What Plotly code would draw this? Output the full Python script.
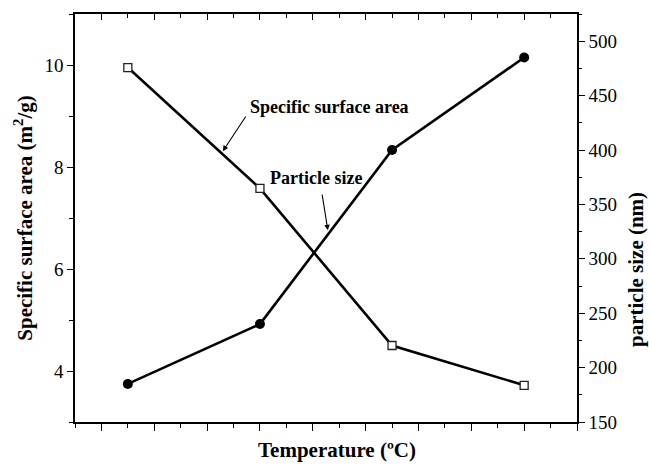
import plotly.graph_objects as go

# Data
temperature = [500, 600, 700, 800]
surface_area = [9.95, 7.58, 4.50, 3.72]        # m2/g (left axis)
particle_size = [185, 240, 400, 485]            # nm (right axis)

left_ticks = [4, 6, 8, 10]
right_ticks = [150, 200, 250, 300, 350, 400, 450, 500]

FONT = "Liberation Serif"

fig = go.Figure()

fig.add_trace(go.Scatter(
    x=temperature, y=surface_area, mode="lines+markers",
    line=dict(color="black", width=2.6),
    marker=dict(symbol="square", size=8, color="white",
                line=dict(color="#222", width=1.3)),
    showlegend=False, cliponaxis=False))

fig.add_trace(go.Scatter(
    x=temperature, y=particle_size, mode="lines+markers", yaxis="y2",
    line=dict(color="black", width=2.6),
    marker=dict(symbol="circle", size=10, color="black"),
    showlegend=False, cliponaxis=False))

# helper trace for top mirror axis (inside ticks)
fig.add_trace(go.Scatter(x=[None], y=[None], xaxis="x2", yaxis="y",
                         showlegend=False, hoverinfo="skip"))

axis_common = dict(showline=True, linecolor="black", linewidth=1.6,
                   showgrid=False, zeroline=False, tickcolor="black",
                   tickwidth=1.4, automargin=False)

fig.update_layout(
    width=649, height=464,
    margin=dict(l=75, r=72, t=14, b=42),
    paper_bgcolor="white", plot_bgcolor="white",
    font=dict(family=FONT, color="black"),
    xaxis=dict(**axis_common, range=[460, 840], tick0=480, dtick=40,
               ticks="outside", ticklen=7, showticklabels=False,
               minor=dict(dtick=20, tick0=460, ticks="outside", ticklen=4,
                          tickcolor="black", tickwidth=1.4)),
    xaxis2=dict(**axis_common, overlaying="x", side="top", anchor="y",
                range=[460, 840], tick0=480, dtick=40, ticks="inside",
                ticklen=6, showticklabels=False,
                minor=dict(dtick=20, tick0=460, ticks="inside", ticklen=4,
                           tickcolor="black", tickwidth=1.4)),
    yaxis=dict(**axis_common, range=[3, 11], tickvals=left_ticks,
               ticks="outside", ticklen=6,
               minor=dict(dtick=1, tick0=3, ticks="outside", ticklen=4,
                          tickcolor="black", tickwidth=1.4),
               tickfont=dict(size=19, family=FONT),
               title=dict(text="<b>Specific surface area (m<sup>2</sup>/g)</b>",
                          font=dict(size=21, family=FONT), standoff=6)),
    yaxis2=dict(**axis_common, overlaying="y", side="right", anchor="x",
                range=[150, 525], tickvals=right_ticks,
                ticks="outside", ticklen=6,
                minor=dict(dtick=25, tick0=150, ticks="outside", ticklen=3,
                           tickcolor="black", tickwidth=1.4),
                tickfont=dict(size=19, family=FONT)),
)

# x axis title (slightly right of centre in the reference)
fig.add_annotation(xref="paper", yref="paper", x=0.5, y=0,
                   xanchor="center", yanchor="middle", xshift=11, yshift=-28,
                   text="<b>Temperature (ºC)</b>", showarrow=False,
                   font=dict(size=21, family=FONT))

# right axis title (sits below centre in the reference)
fig.add_annotation(xref="paper", yref="paper", x=1.0, y=0.5,
                   xanchor="center", yanchor="middle", xshift=59, yshift=-52,
                   text="<b>particle size (nm)</b>", textangle=-90,
                   showarrow=False, font=dict(size=21, family=FONT))

# labels with arrows
fig.add_annotation(x=652.9, y=9.18, xref="x", yref="y",
                   text="<b>Specific surface area</b>", showarrow=False,
                   font=dict(size=18, family=FONT))
fig.add_annotation(x=571.9, y=8.31, ax=590.0, ay=9.02, xref="x", yref="y",
                   axref="x", ayref="y", text="", showarrow=True,
                   arrowhead=2, arrowsize=1, arrowwidth=1.1, arrowcolor="black")
fig.add_annotation(x=642.2, y=7.79, xref="x", yref="y",
                   text="<b>Particle size</b>", showarrow=False,
                   font=dict(size=18, family=FONT))
fig.add_annotation(x=651.4, y=6.76, ax=646.9, ay=7.49, xref="x", yref="y",
                   axref="x", ayref="y", text="", showarrow=True,
                   arrowhead=2, arrowsize=1, arrowwidth=1.1, arrowcolor="black")

fig.write_html("out.html", config={"displayModeBar": False},
               post_script="document.body.style.margin='0';"
                           "document.body.style.overflow='hidden';")
